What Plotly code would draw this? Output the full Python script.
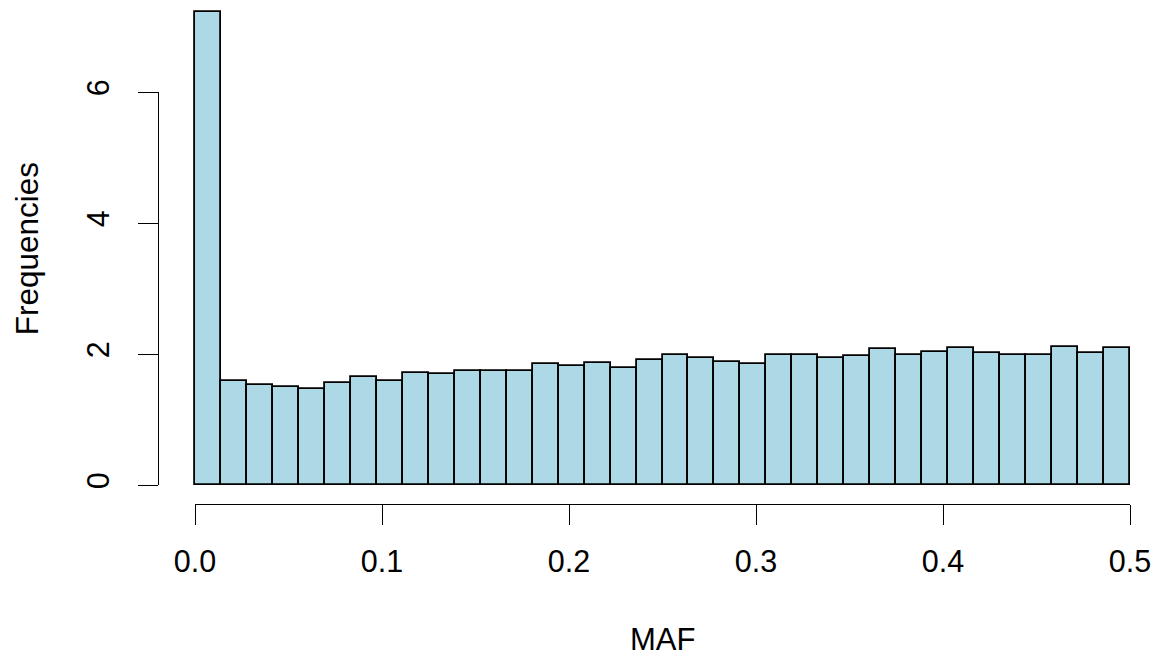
import plotly.graph_objects as go

# ---- data (density histogram of MAF, 36 bins on [0, 0.5]) ----
bin_start = 0.0
bin_end = 0.5
n_bins = 36
densities = [7.22, 1.585, 1.534, 1.504, 1.469, 1.560, 1.646, 1.590, 1.713, 1.700,
             1.750, 1.748, 1.748, 1.855, 1.824, 1.865, 1.789, 1.916, 1.982, 1.942,
             1.885, 1.850, 1.997, 1.987, 1.947, 1.967, 2.084, 1.987, 2.028, 2.099,
             2.018, 1.982, 1.997, 2.115, 2.018, 2.089]
x_ticks = [0.0, 0.1, 0.2, 0.3, 0.4, 0.5]
x_tick_labels = ["0.0", "0.1", "0.2", "0.3", "0.4", "0.5"]
y_ticks = [0, 2, 4, 6]
y_tick_labels = ["0", "2", "4", "6"]
x_title = "MAF"
y_title = "Frequencies"

bin_width = (bin_end - bin_start) / n_bins
centers = [bin_start + (i + 0.5) * bin_width for i in range(n_bins)]

# the page body has an 8px margin, so the figure is drawn 8px in from the window edge
OFF = 8
W, H = 1161 - OFF, 659 - OFF
FONT = "Liberation Sans, Arial, Helvetica, sans-serif"

fig = go.Figure()
fig.add_trace(go.Bar(
    x=centers, y=densities, width=[bin_width] * n_bins,
    marker=dict(color="#ADD8E6", line=dict(color="black", width=1.8)),
    xaxis="x", yaxis="y", showlegend=False, hoverinfo="x+y",
))
# invisible helper trace so the R-style axes (x2/y2) are drawn
fig.add_trace(go.Scatter(
    x=[x_ticks[0], x_ticks[-1]], y=[y_ticks[0], y_ticks[-1]],
    xaxis="x2", yaxis="y2", mode="markers",
    marker=dict(opacity=0), showlegend=False, hoverinfo="skip",
))

# reference pixel geometry (window coordinates) converted to figure coordinates
px_x0, px_x05 = 195.0 - OFF, 1130.0 - OFF      # x=0 and x=0.5
px_y0, px_y6 = 485.3 - OFF, 92.3 - OFF         # y=0 and y=6
left_px, bottom_px = 158.0 - OFF, 504.0 - OFF  # R plot-region edges

L, T, R = int(round(left_px)), 0, 0
B = int(round(H - bottom_px))
pw = W - L - R
ph = H - T - B
sx = (px_x05 - px_x0) / 0.5
sy = (px_y0 - px_y6) / 6.0
x_lo = (L - px_x0) / sx
x_hi = (W - R - px_x0) / sx
y_lo = -((H - B) - px_y0) / sy
y_hi = (px_y0 - T) / sy

fig.update_layout(
    width=W, height=H,
    margin=dict(l=L, r=R, t=T, b=B, pad=0, autoexpand=False),
    paper_bgcolor="white", plot_bgcolor="rgba(0,0,0,0)",
    font=dict(family=FONT, size=30, color="black"),
    bargap=0,
    xaxis=dict(range=[x_lo, x_hi], visible=False, fixedrange=True, automargin=False),
    yaxis=dict(range=[y_lo, y_hi], visible=False, fixedrange=True, automargin=False),
    xaxis2=dict(
        domain=[(px_x0 - L) / pw, (px_x05 - L) / pw],
        range=[x_ticks[0], x_ticks[-1]], anchor="free", position=0,
        showline=True, linecolor="black", linewidth=1.4,
        ticks="outside", ticklen=20, tickwidth=1.4, tickcolor="black",
        tickvals=x_ticks, ticktext=x_tick_labels,
        tickfont=dict(family=FONT, size=30.5, color="black"),
        ticklabelstandoff=10, automargin=False,
        showgrid=False, zeroline=False, fixedrange=True,
    ),
    yaxis2=dict(
        domain=[((H - B) - px_y0) / ph, ((H - B) - px_y6) / ph],
        range=[y_ticks[0], y_ticks[-1]], anchor="free", position=0,
        showline=True, linecolor="black", linewidth=1.4,
        ticks="outside", ticklen=20, tickwidth=1.4, tickcolor="black",
        tickvals=y_ticks, ticktext=y_tick_labels, tickangle=-90,
        tickfont=dict(family=FONT, size=30.5, color="black"),
        ticklabelstandoff=17, automargin=False,
        showgrid=False, zeroline=False, fixedrange=True,
    ),
    annotations=[
        dict(text=x_title, xref="paper", yref="paper",
             x=(662.5 - OFF - L) / pw, y=((H - B) - (639.5 - OFF)) / ph,
             xanchor="center", yanchor="middle", showarrow=False,
             font=dict(family=FONT, size=31, color="black")),
        # left-anchored at the figure's left edge so the rotated title box stays inside
        dict(text=y_title, xref="paper", yref="paper",
             x=(0 - L) / pw, y=((H - B) - (249.3 - OFF)) / ph,
             xanchor="left", yanchor="middle", showarrow=False, textangle=-90,
             borderpad=0,
             font=dict(family=FONT, size=31.5, color="black")),
    ],
)

fig.write_html("out.html")
